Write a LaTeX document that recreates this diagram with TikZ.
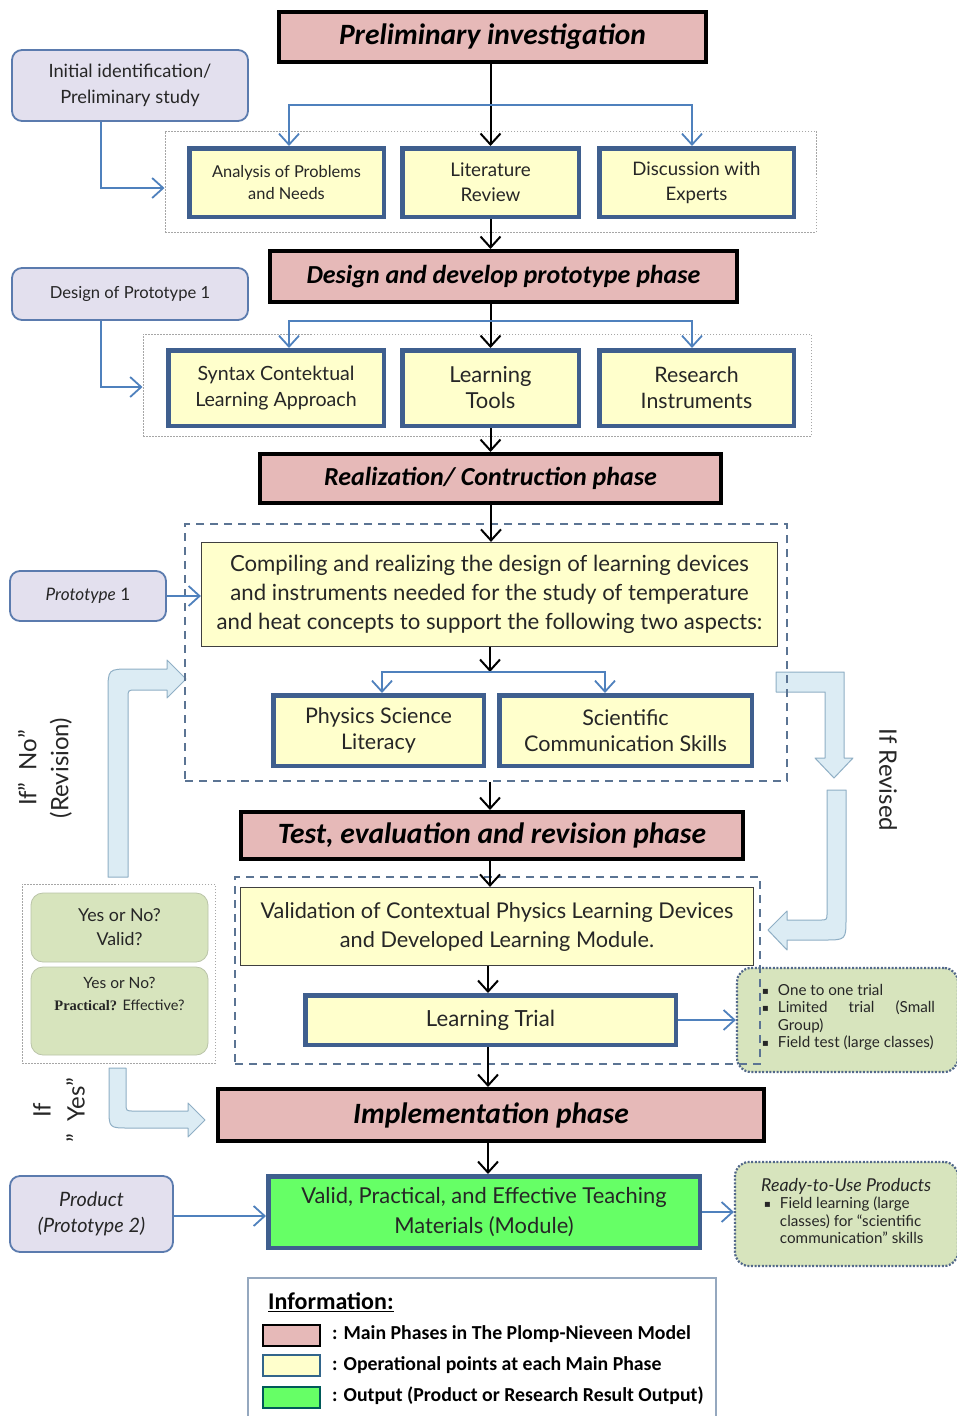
\documentclass[tikz,border=0pt]{standalone}
\usepackage{fontspec}
\setmainfont{Lato}
\newfontfamily\calib{Carlito}
\newfontfamily\tnr{Liberation Serif}
\newfontfamily\djv{DejaVu Sans}
\usetikzlibrary{arrows.meta}
\newcommand{\fsz}[2]{\fontsize{#1}{#2}\selectfont}
\newcommand{\bul}{{\djv\fsz{10}{12}\raisebox{1pt}{▪}}}
\definecolor{pinkc}{HTML}{E6B9B8}
\definecolor{yelc}{HTML}{FFFFCC}
\definecolor{bluedark}{HTML}{3F5F8E}
\definecolor{lineblue}{HTML}{4F81BD}
\definecolor{lavc}{HTML}{E3E0EE}
\definecolor{lavedge}{HTML}{5B7BAE}
\definecolor{greenc}{HTML}{D7E4BD}
\definecolor{greenedge}{HTML}{52688A}
\definecolor{outgreen}{HTML}{66FF66}
\definecolor{arrfill}{HTML}{DCECF4}
\definecolor{arredge}{HTML}{8FAFC5}
\definecolor{dashc}{HTML}{5B7493}
\definecolor{dotc}{HTML}{A6A6A6}
\definecolor{txtc}{HTML}{262626}
\definecolor{ynedge}{HTML}{BAC4A8}
\definecolor{legedge}{HTML}{95A8BF}
\begin{document}
\begin{tikzpicture}[x=1pt,y=-1pt,
  phase/.style={draw=black, line width=4pt, fill=pinkc, inner sep=0pt, font=\calib\bfseries\itshape\fsz{29.5}{32}},
  phasesm/.style={phase, font=\calib\bfseries\itshape\fsz{26}{30}},
  opbox/.style={draw=bluedark, line width=4.5pt, fill=yelc, inner sep=0pt, align=center, text=txtc},
  thinbox/.style={draw=black!75, line width=1.2pt, fill=yelc, inner sep=0pt, align=center, text=txtc},
  lav/.style={draw=lavedge, line width=1.8pt, fill=lavc, rounded corners=10pt, inner sep=0pt, align=center, text=txtc},
  gbox/.style={draw=greenedge, line width=2.2pt, dash pattern=on 2pt off 1.6pt, fill=greenc, rounded corners=14pt, inner sep=0pt},
  ynbox/.style={draw=ynedge, line width=0.8pt, fill=greenc, rounded corners=12pt, inner sep=0pt},
  dotgrp/.style={draw=dotc, line width=1pt, dash pattern=on 1.5pt off 1.5pt, inner sep=0pt},
  dashgrp/.style={draw=dashc, line width=1.8pt, dash pattern=on 8pt off 6pt, inner sep=0pt},
  blk/.style={draw=black, line width=2pt, -{Straight Barb[length=11pt,width=20pt]}},
  conn/.style={draw=lineblue, line width=1.8pt, -{Straight Barb[length=11pt,width=20pt]}},
  barrow/.style={fill=arrfill, draw=arredge, line width=1pt, line join=round},
  swatch/.style={line width=2pt, minimum width=57pt, minimum height=21pt, inner sep=0pt},
  legtxt/.style={anchor=west, font=\calib\bfseries\fsz{19.8}{22}, inner sep=0pt},
  sidetxt/.style={font=\fsz{24}{32}, text=txtc, align=center, inner sep=0pt}
]
\useasboundingbox (0,0) rectangle (956,1416);
\fill[white] (0,0) rectangle (956,1416);

% block arrows
\draw[barrow] (108,877) -- (108,692) .. controls (108,669) .. (131,669) -- (167,669) -- (167,660) -- (186,679) -- (167,698) -- (167,690) -- (136,690) .. controls (128,690) .. (128,698) -- (128,877) -- cycle;
\draw[barrow] (109,1068) -- (109,1108) .. controls (109,1128) .. (129,1128) -- (188,1128) -- (188,1137) -- (205,1120) -- (188,1103) -- (188,1111) -- (134,1111) .. controls (126,1111) .. (126,1103) -- (126,1068) -- cycle;
\draw[barrow] (776,672) -- (844,672) -- (844,758) -- (853,758) -- (834,778) -- (815,758) -- (825,758) -- (825,692) -- (776,692) -- cycle;
\draw[barrow] (827,790) -- (846,790) -- (846,918) .. controls (846,940) .. (824,940) -- (787,940) -- (787,950) -- (768,930) -- (787,911) -- (787,920) -- (820,920) .. controls (827,920) .. (827,913) -- cycle;

% green info boxes
\node[gbox, minimum width=221pt, minimum height=104pt] (g1) at (847.5,1020) {};
\node[anchor=north west, inner sep=0pt, align=left, text=txtc, font=\fsz{15.2}{17.5}] (g1t) at (762,984) {\bul\hspace{9pt}One to one trial\\\bul\hspace{9pt}\makebox[157pt][s]{Limited trial (Small}\\\phantom{\bul}\hspace{9pt}Group)\\\bul\hspace{9pt}Field test (large classes)};
\node[gbox, minimum width=223pt, minimum height=104pt] (g2) at (846.5,1214) {};
\node[anchor=north west, inner sep=0pt, align=left, text=txtc, font=\fsz{15.2}{17.5}] (g2t) at (761,1178) {{\itshape\fsz{17.8}{17.5}Ready-to-Use Products}\\\hspace{3pt}\bul\hspace{9pt}Field learning (large\\\phantom{\bul}\hspace{12pt}classes) for “scientific\\\phantom{\bul}\hspace{12pt}communication” skills};

% groups
\node[dotgrp, minimum width=651pt, minimum height=101pt] (grp1) at (490.5,181.5) {};
\node[dotgrp, minimum width=668pt, minimum height=102pt] (grp2) at (477,385) {};
\node[dashgrp, minimum width=602pt, minimum height=257pt] (grp3) at (486,652.5) {};
\node[dashgrp, minimum width=525pt, minimum height=187pt] (grp4) at (497.5,970.5) {};
\node[dotgrp, minimum width=193pt, minimum height=179pt] (yng) at (118.5,973.5) {};

% phases
\node[phase, minimum width=427pt, minimum height=50pt] (p1) at (492.5,37) {Preliminary investigation};
\node[phasesm, minimum width=467pt, minimum height=51pt] (p2) at (503.5,276.5) {Design and develop prototype phase};
\node[phasesm, minimum width=461pt, minimum height=49pt] (p3) at (490.5,478.5) {Realization/ Contruction phase};
\node[phase, minimum width=502pt, minimum height=47pt] (p4) at (492,835.5) {Test, evaluation and revision phase};
\node[phase, minimum width=546pt, minimum height=52pt] (p5) at (491,1115) {Implementation phase};

% operational boxes
\node[opbox, minimum width=194.5pt, minimum height=68.5pt, font=\fsz{16.4}{22}] (a1) at (286.5,182.5) {Analysis of Problems\\and Needs};
\node[opbox, minimum width=176.5pt, minimum height=68.5pt, font=\fsz{18.8}{25}] (b1) at (490.5,182.5) {Literature\\Review};
\node[opbox, minimum width=194.5pt, minimum height=68.5pt, font=\fsz{18.6}{25}] (c1) at (696.5,182.5) {Discussion with\\Experts};
\node[opbox, minimum width=215.5pt, minimum height=75.5pt, font=\fsz{19.6}{26}] (a2) at (276,388) {Syntax Contektual\\Learning Approach};
\node[opbox, minimum width=176.5pt, minimum height=75.5pt, font=\fsz{22}{26}] (b2) at (490.5,388) {Learning\\Tools};
\node[opbox, minimum width=194.5pt, minimum height=75.5pt, font=\fsz{21.3}{26}] (c2) at (696.5,388) {Research\\Instruments};
\node[thinbox, minimum width=576pt, minimum height=104pt, font=\fsz{22.2}{29}] (comp) at (489.5,594.5) {Compiling and realizing the design of learning devices\\and instruments needed for the study of temperature\\and heat concepts to support the following two aspects:};
\node[opbox, minimum width=210.5pt, minimum height=70.5pt, font=\fsz{21.5}{26}] (ps) at (378.5,730.5) {Physics Science\\Literacy};
\node[opbox, minimum width=252.5pt, minimum height=70.5pt, font=\fsz{21.6}{26}] (sc) at (625.5,730.5) {Scientific\\Communication Skills};
\node[thinbox, minimum width=513pt, minimum height=78pt, font=\fsz{21.7}{29}] (val) at (497,926.5) {Validation of Contextual Physics Learning Devices\\and Developed Learning Module.};
\node[opbox, minimum width=370.5pt, minimum height=49.5pt, font=\fsz{22.2}{26}] (lt) at (490.5,1020) {Learning Trial};
\node[opbox, fill=outgreen, minimum width=431.5pt, minimum height=71.5pt, font=\fsz{21.9}{30}] (out) at (484,1212) {Valid, Practical, and Effective Teaching\\Materials (Module)};

% lavender boxes
\node[lav, minimum width=236pt, minimum height=71pt, font=\fsz{18.3}{26}] (ini) at (130,85.5) {Initial identification/\\Preliminary study};
\node[lav, minimum width=236pt, minimum height=52pt, font=\fsz{16.6}{20}] (dp1) at (130,294) {Design of Prototype 1};
\node[lav, minimum width=156pt, minimum height=50pt, font=\fsz{17.2}{20}] (pt1) at (88,596) {\textit{Prototype} 1};
\node[lav, minimum width=163pt, minimum height=76pt, font=\itshape\fsz{19.8}{26}] (prod) at (91.5,1214) {Product\\(Prototype 2)};

% yes/no boxes
\node[ynbox, minimum width=177pt, minimum height=69pt, align=center, text=txtc, font=\fsz{17.8}{24}] (yn1) at (119.5,927.5) {Yes or No?\\Valid?};
\node[ynbox, minimum width=177pt, minimum height=88pt] (yn2) at (119.5,1011) {};
\node[anchor=north, inner sep=0pt, align=center, text=txtc, font=\fsz{15.5}{22}] (yn2t) at (119.5,977) {Yes or No?\\{\tnr\bfseries\fsz{14.5}{22}Practical?} {\fsz{14.5}{22}Effective?}};

% side texts
\node[sidetxt, rotate=-90] (rev) at (888,780) {If Revised};
\node[sidetxt, rotate=90] (ifno) at (45,768) {If”~~No”\\(Revision)};
\node[sidetxt, rotate=90, font=\fsz{24}{34}] (ifyes) at (59,1110) {If\\”~~Yes”};

% black connectors
\draw[blk] (b1.north |- p1.south) -- (b1.north);
\draw[blk] (b1.south) -- (b1.south |- p2.north);
\draw[blk] (b2.north |- p2.south) -- (b2.north);
\draw[blk] (b2.south) -- (b2.south |- p3.north);
\coordinate (c3) at (491,505);
\draw[blk] (p3.south -| c3) -- (comp.north -| c3);
\coordinate (h3) at (490,672);
\draw[blk] (comp.south -| h3) -- (h3);
\draw[blk] (grp3.south -| h3) -- (p4.north -| h3);
\draw[blk] (p4.south -| h3) -- (val.north -| h3);
\coordinate (c4) at (488,1000);
\draw[blk] (val.south -| c4) -- (lt.north -| c4);
\draw[blk] (lt.south -| c4) -- (p5.north -| c4);
\draw[blk] (p5.south -| c4) -- (out.north -| c4);

% blue connectors
\coordinate (h1) at (491,105);
\draw[conn] (h1) -| ([xshift=2.5pt]a1.north);
\draw[conn] (h1) -| ([xshift=-4.5pt]c1.north);
\coordinate (h2) at (491,321);
\draw[conn] (h2) -| ([xshift=13pt]a2.north);
\draw[conn] (h2) -| ([xshift=-4.5pt]c2.north);
\draw[conn] (h3) -| ([xshift=3.5pt]ps.north);
\draw[conn] (h3) -| ([xshift=-20.5pt]sc.north);
\draw[conn] ([xshift=-29pt]ini.south) |- ([yshift=-6.5pt]grp1.west);
\draw[conn] ([xshift=-29pt]dp1.south) |- ([yshift=-2pt]grp2.west);
\draw[conn] (pt1.east) -- (pt1.east -| comp.west);
\draw[conn] (lt.east) -- (lt.east -| g1.west);
\draw[conn] ([yshift=-2pt]prod.east) -- ([yshift=-2pt]prod.east -| out.west);
\draw[conn] (out.east) -- (out.east -| g2.west);

% legend
\node[draw=legedge, line width=1.2pt, minimum width=468pt, minimum height=142pt, inner sep=0pt] (leg) at (482,1349) {};
\node[anchor=west, inner sep=0pt, font=\calib\bfseries\fsz{24}{26}] (info) at (268,1302) {\underline{Information:}};
\node[swatch, draw=black, fill=pinkc] (s1) at (291.5,1335.5) {};
\node[swatch, draw=bluedark!80!teal, fill=yelc] (s2) at (291.5,1365.5) {};
\node[swatch, draw=teal!70!black, fill=outgreen] (s3) at (291.5,1397.5) {};
\node[legtxt] (l1) at (332,1334) {: Main Phases in The Plomp-Nieveen Model};
\node[legtxt] (l2) at (332,1365) {: Operational points at each Main Phase};
\node[legtxt] (l3) at (332,1396) {: Output (Product or Research Result Output)};
\end{tikzpicture}
\end{document}
